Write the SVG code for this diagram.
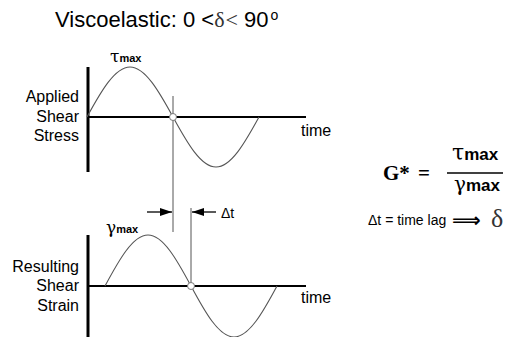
<svg xmlns="http://www.w3.org/2000/svg" width="508" height="337" viewBox="0 0 508 337">
<style>
.lbl{font-family:"Liberation Sans",Arial,sans-serif;font-size:16px;fill:#000}
.sub{font-family:"Liberation Sans",Arial,sans-serif;font-weight:bold;fill:#000}
.gk{font-family:"DejaVu Serif","Liberation Serif",serif;fill:#000}
.axv{stroke:#000;stroke-width:3;fill:none}
.axh{stroke:#000;stroke-width:2;fill:none}
.wave{stroke:#555;stroke-width:1.1;fill:none}
.guide{stroke:#555;stroke-width:1;fill:none}
.dot{fill:#fff;stroke:#777;stroke-width:1}
</style>
<defs>
<marker id="ah" viewBox="0 0 12 8" refX="12" refY="4" markerWidth="12" markerHeight="8" markerUnits="userSpaceOnUse" orient="auto">
<path d="M0,0 L12,4 L0,8 Z" fill="#000"/>
</marker>
</defs>
<rect width="508" height="337" fill="#fff"/>
<text class="lbl" x="55" y="27" style="font-size:22px">Viscoelastic: 0 &lt;<tspan style="font-family:'Liberation Serif',serif;fill:#333">δ</tspan><tspan dx="1" style="font-family:'Liberation Serif',serif;fill:#333">&lt;</tspan> 90<tspan dx="2" dy="-7" style="font-size:14px">o</tspan></text>
<g id="stress-graph">
<line class="axv" x1="88" y1="67" x2="88" y2="172"/>
<line class="axh" x1="88" y1="117" x2="306" y2="117"/>
<path class="wave" d="M87,117 C101,91.4 114.9,67 130,67 C145.1,67 159,91.4 173,117 C187,142.6 200.9,167 216,167 C231.1,167 245,142.6 259,117"/>
<text class="lbl" x="301" y="136">time</text>
<text class="lbl" text-anchor="end" x="79" y="102">Applied</text>
<text class="lbl" text-anchor="end" x="79" y="122">Shear</text>
<text class="lbl" text-anchor="end" x="79" y="141">Stress</text>
<text x="110" y="62"><tspan class="gk" style="font-size:17px">τ</tspan><tspan class="sub" style="font-size:11px">max</tspan></text>
</g>
<g id="strain-graph">
<line class="axv" x1="88" y1="235" x2="88" y2="337"/>
<line class="axh" x1="88" y1="286" x2="306" y2="286"/>
<path class="wave" d="M105,286 C119,259.9 132.9,235 148,235 C163.1,235 177,259.9 191,286 C205,312.1 218.9,337 234,337 C249.1,337 263,312.1 277,286"/>
<text class="lbl" x="301" y="303">time</text>
<text class="lbl" text-anchor="end" x="79" y="272">Resulting</text>
<text class="lbl" text-anchor="end" x="79" y="291">Shear</text>
<text class="lbl" text-anchor="end" x="79" y="311">Strain</text>
<text x="106" y="233"><tspan class="gk" style="font-size:17px">γ</tspan><tspan class="sub" style="font-size:11px">max</tspan></text>
</g>
<g id="connectors">
<line class="guide" x1="173" y1="96" x2="173" y2="232"/>
<line class="guide" x1="191" y1="208" x2="191" y2="286"/>
<line stroke="#000" stroke-width="1.3" x1="147" y1="212" x2="172" y2="212" marker-end="url(#ah)"/>
<line stroke="#000" stroke-width="1.3" x1="216" y1="212" x2="192" y2="212" marker-end="url(#ah)"/>
<circle class="dot" cx="173" cy="117" r="3.5"/>
<circle class="dot" cx="191" cy="286" r="3.5"/>
</g>
<text class="lbl" x="221" y="218" style="font-size:14px">Δt</text>
<g id="formula">
<text x="383" y="180" style="font-family:'Liberation Serif',serif;font-weight:bold;font-size:21px">G*</text>
<text x="418" y="180" style="font-family:'Liberation Serif',serif;font-weight:bold;font-size:21px">=</text>
<line stroke="#000" stroke-width="1.5" x1="447" y1="173" x2="503" y2="173"/>
<text x="452" y="160"><tspan class="gk" style="font-size:22px">τ</tspan><tspan class="sub" style="font-size:17px">max</tspan></text>
<text x="454" y="191"><tspan class="gk" style="font-size:20px">γ</tspan><tspan class="sub" style="font-size:17px">max</tspan></text>
</g>
<g id="lag">
<text class="lbl" x="368" y="225" style="font-size:14px">Δt = time lag</text>
<text x="452" y="227" style="font-family:'DejaVu Sans',sans-serif;font-size:20px;font-weight:bold">⟹</text>
<text x="491" y="227" style="font-family:'Liberation Serif',serif;font-size:26px;fill:#333">δ</text>
</g>
</svg>
